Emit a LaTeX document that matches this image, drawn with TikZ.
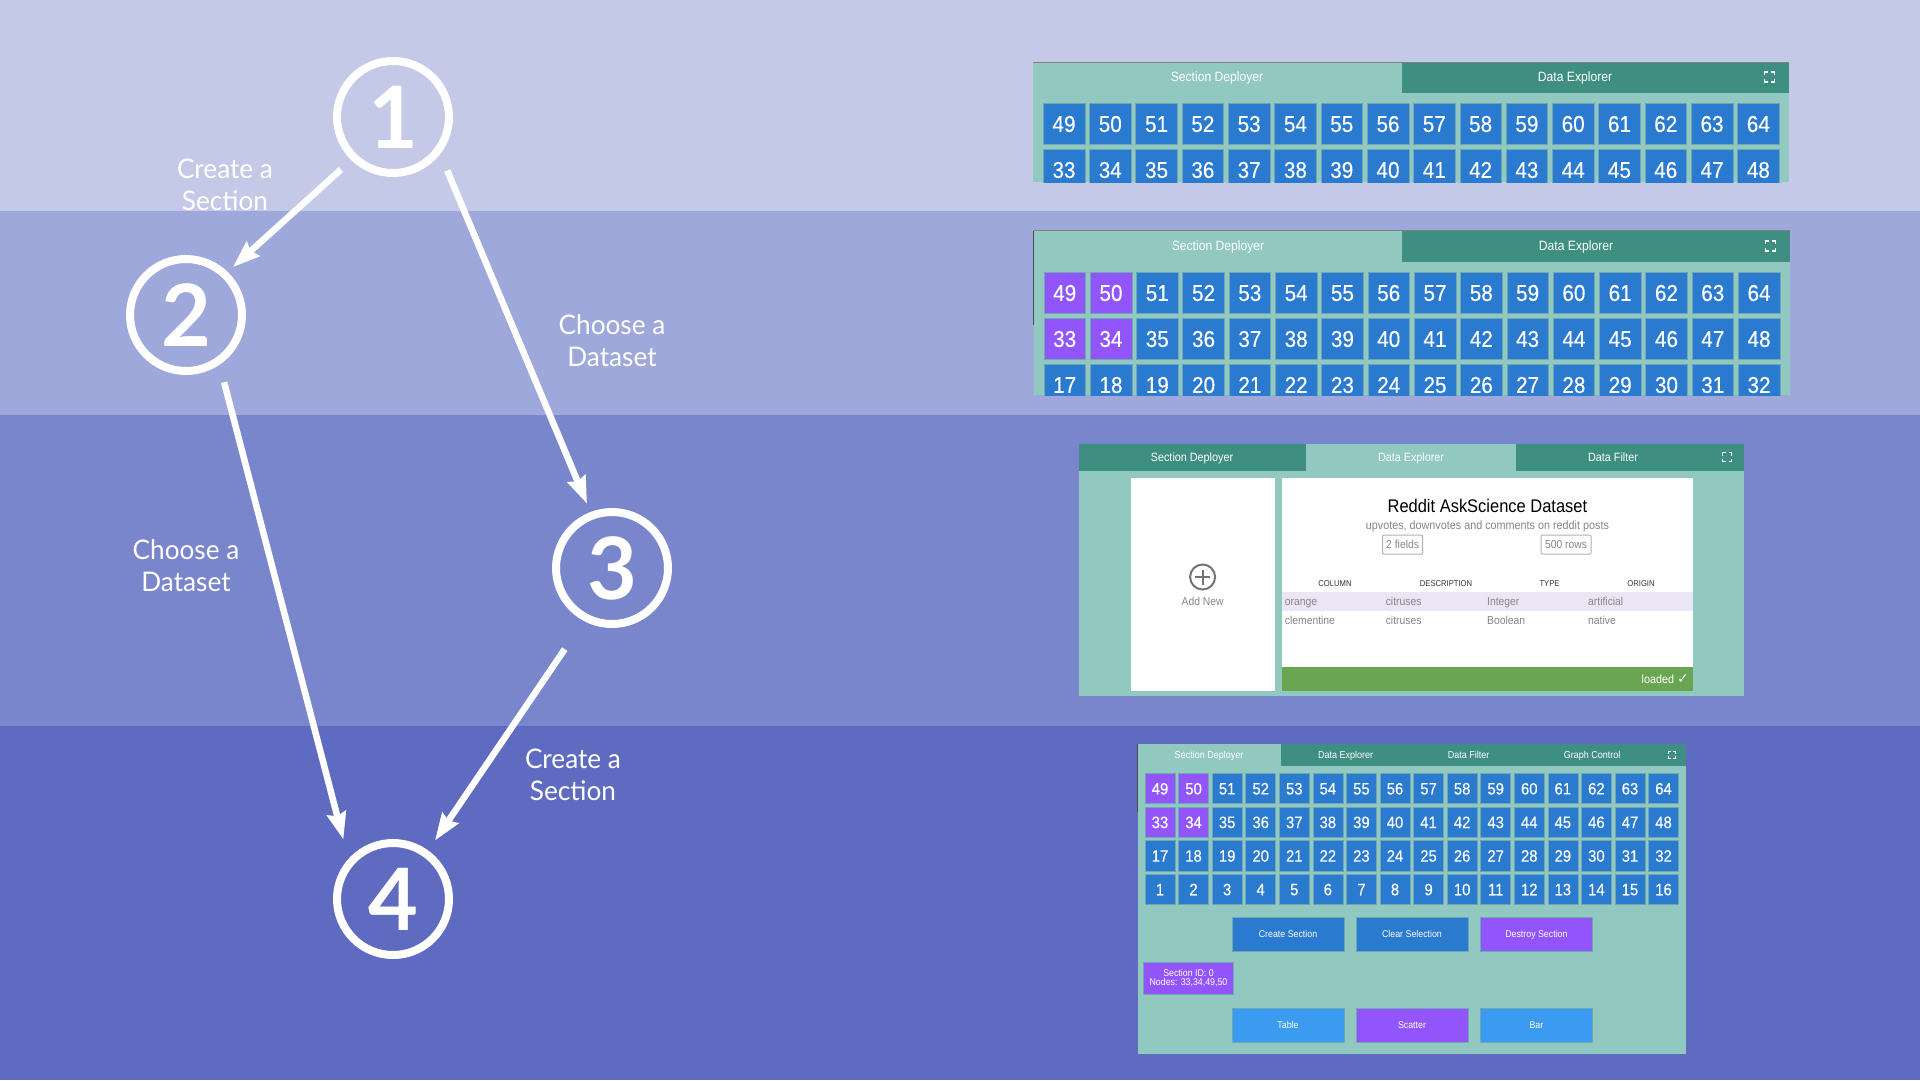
\documentclass[tikz,border=0pt]{standalone}
\usepackage{fontspec}
\usepackage{tikz}
\usetikzlibrary{arrows.meta, positioning}

\newfontfamily\uifont[FakeStretch=0.9]{Liberation Sans}
\newfontfamily\cellfont[FakeStretch=0.9,FakeBold=.3]{Liberation Sans}
\newfontfamily\stepfont{Lato Bold}
\newfontfamily\flowfont[FakeStretch=0.97]{Lato}
\newfontfamily\symfont{DejaVu Sans}

\definecolor{bandA}{HTML}{C5C9E8}
\definecolor{bandB}{HTML}{9EA8DB}
\definecolor{bandC}{HTML}{7A86CC}
\definecolor{bandD}{HTML}{5E6BC0}
\definecolor{panelbg}{HTML}{91C8C0}
\definecolor{tabdark}{HTML}{3E8E82}
\definecolor{cellblue}{HTML}{2A7AD0}
\definecolor{cellpurple}{HTML}{9155FB}
\definecolor{celledge}{HTML}{6FA8B4}
\definecolor{skyblue}{HTML}{3A9BF0}
\definecolor{loadgreen}{HTML}{6AA551}
\definecolor{rowtint}{HTML}{EAE6F5}
\definecolor{greytext}{HTML}{868686}

\newcommand{\uisize}[1]{\uifont\fontsize{#1}{#1}\selectfont}
\newcommand{\cellsize}[1]{\cellfont\fontsize{#1}{#1}\selectfont}
% four corner brackets of the fullscreen icon
\newcommand{\expandicon}[3]{
  \draw[white, line width=1.3pt] (#1-#3,#2-#3/3) -- (#1-#3,#2-#3) -- (#1-#3/3,#2-#3);
  \draw[white, line width=1.3pt] (#1+#3/3,#2-#3) -- (#1+#3,#2-#3) -- (#1+#3,#2-#3/3);
  \draw[white, line width=1.3pt] (#1-#3,#2+#3/3) -- (#1-#3,#2+#3) -- (#1-#3/3,#2+#3);
  \draw[white, line width=1.3pt] (#1+#3/3,#2+#3) -- (#1+#3,#2+#3) -- (#1+#3,#2+#3/3);
}

\begin{document}
\begin{tikzpicture}[
  x=1pt, y=-1pt,
  stepcircle/.style={draw=white, line width=8pt, circle, minimum size=112pt, inner sep=0pt,
    text=white, font=\stepfont\fontsize{86}{86}\selectfont},
  flowarrow/.style={-{Stealth[length=27pt, width=19pt, inset=3pt]}, line width=6.5pt, draw=white},
  flowlabel/.style={text=white, align=center, inner sep=0pt, font=\flowfont\fontsize{27}{32}\selectfont},
  steadytext/.style={text height=.72*#1pt, text depth=.05*#1pt},
  tabtext/.style={text=white, inner sep=0pt, steadytext=#1, font=\uisize{#1}},
  bigcell/.style={minimum width=41.6pt, minimum height=41.2pt, inner sep=0pt, draw=celledge,
    line width=.6pt, text=white, text height=16.5pt, text depth=0pt, font=\cellsize{23}},
  smallcell/.style={minimum width=30pt, minimum height=30.2pt, inner sep=0pt, draw=celledge,
    line width=.6pt, text=white, text height=11.9pt, text depth=0pt, font=\cellsize{16.5}},
  actionbtn/.style={minimum width=112pt, minimum height=34pt, inner sep=0pt, draw=celledge,
    line width=.6pt, text=white, font=\uisize{9.8}},
  cellgrey/.style={text=greytext, inner sep=0pt, steadytext=11.5, font=\uisize{11.5}},
  headgrey/.style={text=black!80, inner sep=0pt, font=\uisize{8.5}},
  countbox/.style={draw=black!30, line width=1pt, rounded corners=1pt, minimum height=19pt,
    inner sep=0pt, text=greytext, font=\uisize{11.5}},
]
\useasboundingbox (0,0) rectangle (1920,1080);

% --- Background bands
\fill[bandA] (0,0) rectangle (1920,211);
\fill[bandB] (0,211) rectangle (1920,415);
\fill[bandC] (0,415) rectangle (1920,726);
\fill[bandD] (0,726) rectangle (1920,1080);

% --- Steps
\node[stepcircle] (stepone)   at (393,117) {1};
\node[stepcircle] (steptwo)   at (186,315) {2};
\node[stepcircle] (stepthree) at (612,568) {3};
\node[stepcircle] (stepfour)  at (393,899) {4};

\draw[flowarrow, shorten <=14pt, shorten >=7pt] (stepone.226) -- (steptwo.46);
\draw[flowarrow, shorten <=18pt, shorten >=9pt] (stepone.-38) -- (stepthree.111);
\draw[flowarrow, shorten <=18pt, shorten >=20pt] (steptwo.-56) -- (stepfour.138);
\draw[flowarrow, shorten <=34pt, shorten >=12pt] (stepthree.-118) -- (stepfour.54);

\node[flowlabel] (createtop)   at (225,185) {Create a\\Section};
\node[flowlabel] (chooseright) at (612,341) {Choose a\\Dataset};
\node[flowlabel] (chooseleft)  at (186,566) {Choose a\\Dataset};
\node[flowlabel] (createlow)   at (573,775) {Create a\\Section};

% --- Panel A: empty selection
\fill[panelbg] (1033,62) rectangle (1789,182);
\fill[tabdark] (1401.6,62) rectangle (1789,93);
\draw[black!50, line width=1pt] (1033,62) -- (1789,62);
\node[tabtext=13.5] (atabsec) at (1217,77) {Section Deployer};
\node[tabtext=13.5] (atabdata) at (1575,77) {Data Explorer};
\expandicon{1769.5}{77}{5}
\begin{scope}
  \clip (1033,62) rectangle (1789,182);
  \foreach \row in {0,1} \foreach \col in {0,...,15} {
    \pgfmathtruncatemacro{\cellnum}{49-16*\row+\col}
    \node[bigcell, fill=cellblue] (a\cellnum) at ({1064+46.29*\col},{123.7+46*\row}) {\cellnum};
  }
\end{scope}

% --- Panel B: four cells selected
\fill[panelbg] (1033.5,230.5) rectangle (1790,395);
\fill[tabdark] (1402,230.5) rectangle (1790,261.7);
\draw[black!50, line width=1pt] (1033.5,230.5) -- (1790,230.5);
\draw[black!70, line width=1pt] (1033.5,230.5) -- (1033.5,325);
\node[tabtext=13.5] (btabsec) at (1218,246) {Section Deployer};
\node[tabtext=13.5] (btabdata) at (1576,246) {Data Explorer};
\expandicon{1770.5}{246}{5}
\begin{scope}
  \clip (1033.5,230.5) rectangle (1790,395);
  \foreach \row in {0,1,2} \foreach \col in {0,...,15} {
    \pgfmathtruncatemacro{\cellnum}{49-16*\row+\col}
    \pgfmathtruncatemacro{\picked}{(\row<2)&&(\col<2)}
    \edef\cellcol{\ifnum\picked=1 cellpurple\else cellblue\fi}
    \node[bigcell, fill=\cellcol] (b\cellnum) at ({1064.7+46.29*\col},{292.7+46*\row}) {\cellnum};
  }
\end{scope}

% --- Panel C: dataset explorer
\fill[tabdark] (1079,443.5) rectangle (1744,471.3);
\fill[panelbg] (1079,471.3) rectangle (1744,695.7);
\fill[panelbg] (1306,443.5) rectangle (1516,471.3);
\node[tabtext=12] (ctabsec) at (1192,457) {Section Deployer};
\node[tabtext=12] (ctabdata) at (1411,457) {Data Explorer};
\node[tabtext=12] (ctabfilter) at (1613,457) {Data Filter};
\expandicon{1727}{457}{4.5}

\fill[white] (1131,478.3) rectangle (1275,691);
\fill[white] (1282,478.3) rectangle (1692.8,691);
\fill[rowtint] (1282,592) rectangle (1692.8,611);
\fill[loadgreen] (1282,667) rectangle (1692.8,691);

\node[draw=black!55, line width=2pt, circle, minimum size=25pt, inner sep=0pt] (addicon) at (1202.6,577) {};
\draw[black!55, line width=2pt] (addicon.center) ++(-7.5,0) -- ++(15,0);
\draw[black!55, line width=2pt] (addicon.center) ++(0,-7.5) -- ++(0,15);
\node[cellgrey] (addtext) at (1202.6,602) {Add New};

\node[inner sep=0pt, steadytext=18.3, font=\uisize{18.3}] (dstitle) at (1487.4,506) {Reddit AskScience Dataset};
\node[cellgrey, steadytext=12, font=\uisize{12}] (dssub) at (1487.4,525.5) {upvotes, downvotes and comments on reddit posts};
\node[countbox, minimum width=40pt] (dsfields) at (1402.6,544.5) {2 fields};
\node[countbox, minimum width=50pt] (dsrows) at (1566,544.5) {500 rows};

\node[headgrey] (hcolumn) at (1335,584) {COLUMN};
\node[headgrey] (hdesc)   at (1446,584) {DESCRIPTION};
\node[headgrey] (htype)   at (1549.5,584) {TYPE};
\node[headgrey] (horigin) at (1641,584) {ORIGIN};

\node[cellgrey, anchor=west] (rowaname) at (1284.7,601.7) {orange};
\node[cellgrey, anchor=west] (rowadesc) at (1385.6,601.7) {citruses};
\node[cellgrey, anchor=west] (rowatype) at (1487,601.7) {Integer};
\node[cellgrey, anchor=west] (rowaorig) at (1588,601.7) {artificial};
\node[cellgrey, anchor=west] (rowbname) at (1284.7,620.7) {clementine};
\node[cellgrey, anchor=west] (rowbdesc) at (1385.6,620.7) {citruses};
\node[cellgrey, anchor=west] (rowbtype) at (1487,620.7) {Boolean};
\node[cellgrey, anchor=west] (rowborig) at (1588,620.7) {native};

\node[text=white, inner sep=0pt, anchor=east, font=\uisize{12}] (loaded) at (1689,679) {loaded {\symfont\fontsize{14}{14}\selectfont ✓}};

% --- Panel D: full grid and controls
\fill[panelbg] (1137.5,743.5) rectangle (1686,1054);
\fill[tabdark] (1281,743.5) rectangle (1686,766);
\draw[black!70, line width=1pt] (1137.5,743.5) -- (1137.5,812);
\node[tabtext=10] (dtabsec) at (1209,754.7) {Section Deployer};
\node[tabtext=10] (dtabdata) at (1345.6,754.7) {Data Explorer};
\node[tabtext=10] (dtabfilter) at (1468.5,754.7) {Data Filter};
\node[tabtext=10] (dtabgraph) at (1592,754.7) {Graph Control};
\expandicon{1672}{755}{3.8}

\foreach \row in {0,1,2,3} \foreach \col in {0,...,15} {
  \pgfmathtruncatemacro{\cellnum}{49-16*\row+\col}
  \pgfmathtruncatemacro{\picked}{(\row<2)&&(\col<2)}
  \edef\cellcol{\ifnum\picked=1 cellpurple\else cellblue\fi}
  \node[smallcell, fill=\cellcol] (d\cellnum) at ({1160+33.57*\col},{788.5+33.6*\row}) {\cellnum};
}

\node[actionbtn, steadytext=9.8, fill=cellblue]   (btncreate)  at (1288,934) {Create Section};
\node[actionbtn, steadytext=9.8, fill=cellblue]   (btnclear)   at (1412,934) {Clear Selection};
\node[actionbtn, steadytext=9.8, fill=cellpurple] (btndestroy) at (1536.4,934) {Destroy Section};

\node[actionbtn, fill=cellpurple, minimum width=90pt, minimum height=31.7pt, align=center]
  (sectioninfo) at (1188.5,978) {Section ID: 0\\Nodes: 33,34,49,50};

\node[actionbtn, steadytext=9.8, fill=skyblue]    (btntable)   at (1288,1025) {Table};
\node[actionbtn, steadytext=9.8, fill=cellpurple] (btnscatter) at (1412,1025) {Scatter};
\node[actionbtn, steadytext=9.8, fill=skyblue]    (btnbar)     at (1536.4,1025) {Bar};

\end{tikzpicture}
\end{document}
